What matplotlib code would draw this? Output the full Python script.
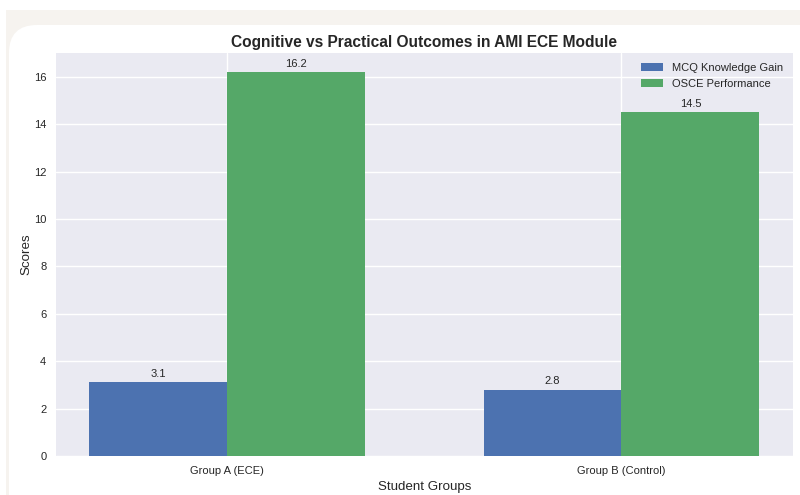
"""
Grouped bar chart: MCQ knowledge gain vs OSCE performance per student group.
"""

import numpy as np
import matplotlib
matplotlib.use('Agg')
import matplotlib.pyplot as plt
from matplotlib.patches import FancyBboxPatch, Rectangle
from matplotlib.transforms import IdentityTransform

groups = ['Group A (ECE)', 'Group B (Control)']
mcq_gain = [3.1, 2.8]
osce_perf = [16.2, 14.5]
series_names = ['MCQ Knowledge Gain', 'OSCE Performance']

plt.style.use('seaborn-v0_8')
plt.rcParams['font.family'] = ['Liberation Sans', 'DejaVu Sans']

fig = plt.figure(figsize=(8, 4.95), dpi=100, facecolor='white')

# screenshot backdrop: beige page with a white rounded card on top
fig.patches.append(Rectangle((6, 0), 800, 485, transform=IdentityTransform(),
                             facecolor='#f6f3ef', edgecolor='none', zorder=-2))
fig.patches.append(FancyBboxPatch((9, -40), 820, 510, transform=IdentityTransform(),
                                  boxstyle='round,pad=0,rounding_size=28',
                                  facecolor='white', edgecolor='none', zorder=-1))

ax = fig.add_axes([0.07, 0.079, 0.921, 0.814])

x = np.arange(len(groups))
width = 0.35
bars1 = ax.bar(x - width / 2, mcq_gain, width, label=series_names[0])
bars2 = ax.bar(x + width / 2, osce_perf, width, label=series_names[1])

for bars in (bars1, bars2):
    for b in bars:
        h = b.get_height()
        ax.annotate(f'{h}', xy=(b.get_x() + b.get_width() / 2, h),
                    xytext=(0, 2.5), textcoords='offset points',
                    ha='center', va='bottom', fontsize=8, color='.15')

ax.set_title('Cognitive vs Practical Outcomes in AMI ECE Module',
             fontsize=11.2, fontweight='bold', pad=4)
ax.set_xlabel('Student Groups', fontsize=9.6)
ax.set_ylabel('Scores', fontsize=9.6, labelpad=1)
ax.set_xticks(x)
ax.set_xticklabels(groups)
ax.tick_params(labelsize=8)
ax.legend(loc='upper right', fontsize=8)

fig.savefig('out.png', dpi=100)
